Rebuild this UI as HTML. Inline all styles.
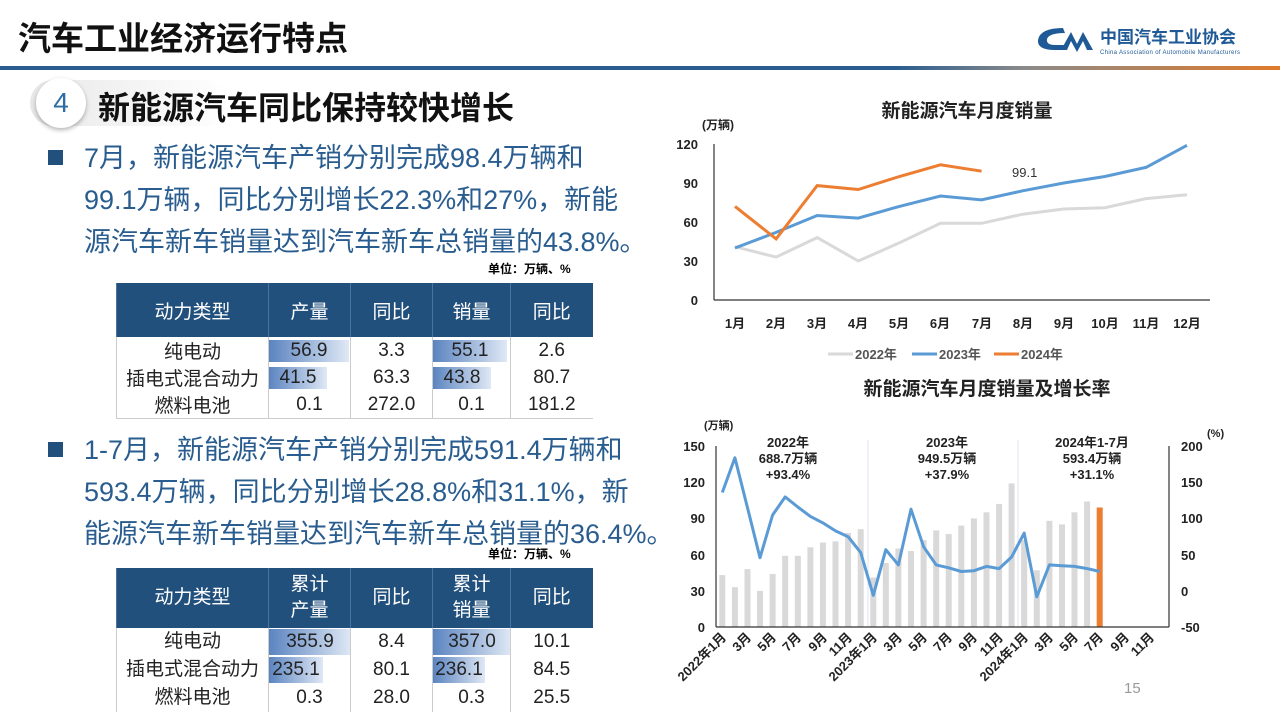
<!DOCTYPE html>
<html><head><meta charset="utf-8"><style>
body{margin:0;width:1280px;height:719px;overflow:hidden;background:#fff;font-family:"Liberation Sans","Noto Sans CJK SC",sans-serif;position:relative}
.a{position:absolute;white-space:nowrap}
.bl{color:#2a5d8f;font-size:27px;line-height:42px}
table{border-collapse:collapse;table-layout:fixed;position:absolute;left:116px;width:476px;font-size:19px;color:#222;text-align:center}
th{background:#22507c;color:#fff;font-weight:normal;border-left:1px solid #4a73a0}
td{padding:0;border-left:1px solid #ccc}
.g{background:linear-gradient(90deg,#5b84c0,#dfe8f5);}
</style></head><body>
<div class="a" style="left:18px;top:12px;font-size:33px;font-weight:bold;color:#111">汽车工业经济运行特点</div>
<div class="a" style="left:0;top:66px;width:1280px;height:4px;background:linear-gradient(90deg,#2a5d8f 0%,#2a5d8f 70%,#8a8a8a 80%,#e07a2a 100%)"></div>
<svg class="a" style="left:1035px;top:24px" width="245" height="34" font-family="Liberation Sans, Noto Sans CJK SC, sans-serif"><path d="M28 4 Q5 4 3 16 Q2 26 20 26 L28 26 L30 21 L20 21 Q11 21 12 15 Q14 9 30 9 Z" fill="#1f5a96"/><path d="M26 26 L36 8 L42 20 L48 8 L58 26 L52 26 L48 17 L42 28 L36 17 L32 26Z" fill="#1f5a96"/>
<text x="65" y="19" font-size="17" font-weight="bold" fill="#1f5a96">中国汽车工业协会</text>
<text x="65" y="30" font-size="6" fill="#1f5a96" textLength="140">China Association of Automobile Manufacturers</text></svg>
<div class="a" style="left:30px;top:80px;width:200px;height:46px;background:linear-gradient(90deg,#e8e8e8,rgba(255,255,255,0));border-radius:23px"></div>
<div class="a" style="left:36px;top:78px;width:50px;height:50px;border-radius:50%;background:#fff;box-shadow:0 2px 5px rgba(0,0,0,.3);text-align:center;line-height:50px;font-size:28px;color:#2e6da4">4</div>
<div class="a" style="left:98px;top:83px;font-size:32px;font-weight:bold;color:#111">新能源汽车同比保持较快增长</div>
<div class="a" style="left:48px;top:150px;width:15px;height:15px;background:#22507c"></div>
<div class="a bl" style="left:84px;top:137px">7月，新能源汽车产销分别完成98.4万辆和<br>99.1万辆，同比分别增长22.3%和27%，新能<br>源汽车新车销量达到汽车新车总销量的43.8%。</div>
<div class="a" style="left:488px;top:260px;font-size:12px;font-weight:bold">单位：万辆、%</div>
<table style="top:283px"><colgroup><col style="width:152px"><col style="width:82px"><col style="width:82px"><col style="width:78px"><col style="width:82px"></colgroup><tr style="height:54px"><th>动力类型</th><th>产量</th><th>同比</th><th>销量</th><th>同比</th></tr>
<tr style="height:26px"><td>纯电动</td><td><div class="g" style="width:80px">56.9</div></td><td>3.3</td><td><div class="g" style="width:74px">55.1</div></td><td>2.6</td></tr>
<tr style="height:26px"><td>插电式混合动力</td><td><div class="g" style="width:58px">41.5</div></td><td>63.3</td><td><div class="g" style="width:58px">43.8</div></td><td>80.7</td></tr>
<tr style="height:26px;border-bottom:1px solid #ccc"><td>燃料电池</td><td>0.1</td><td>272.0</td><td>0.1</td><td>181.2</td></tr></table>
<div class="a" style="left:48px;top:442px;width:15px;height:15px;background:#22507c"></div>
<div class="a bl" style="left:84px;top:429px">1-7月，新能源汽车产销分别完成591.4万辆和<br>593.4万辆，同比分别增长28.8%和31.1%，新<br>能源汽车新车销量达到汽车新车总销量的36.4%。</div>
<div class="a" style="left:488px;top:545px;font-size:12px;font-weight:bold">单位：万辆、%</div>
<table style="top:568px;line-height:26px"><colgroup><col style="width:152px"><col style="width:82px"><col style="width:82px"><col style="width:78px"><col style="width:82px"></colgroup><tr style="height:60px"><th>动力类型</th><th>累计<br>产量</th><th>同比</th><th>累计<br>销量</th><th>同比</th></tr>
<tr style="height:28px"><td>纯电动</td><td><div class="g" style="width:82px">355.9</div></td><td>8.4</td><td><div class="g" style="width:78px">357.0</div></td><td>10.1</td></tr>
<tr style="height:28px"><td>插电式混合动力</td><td><div class="g" style="width:54px">235.1</div></td><td>80.1</td><td><div class="g" style="width:52px">236.1</div></td><td>84.5</td></tr>
<tr style="height:28px"><td>燃料电池</td><td>0.3</td><td>28.0</td><td>0.3</td><td>25.5</td></tr></table>

<svg class="a" style="left:0;top:0" width="1280" height="719" font-family="Liberation Sans, Noto Sans CJK SC, sans-serif">
<text x="967" y="117" font-size="19" font-weight="bold" text-anchor="middle" fill="#222">新能源汽车月度销量</text>
<text x="702" y="129" font-size="12" font-weight="bold" fill="#222">(万辆)</text>
<g font-size="13" font-weight="bold" fill="#222" text-anchor="end">
<text x="698" y="149">120</text><text x="698" y="188">90</text><text x="698" y="227">60</text><text x="698" y="266">30</text><text x="698" y="305">0</text></g>
<line x1="714" y1="144" x2="714" y2="300" stroke="#333" stroke-width="1.2"/>
<line x1="714" y1="300" x2="1210" y2="300" stroke="#333" stroke-width="1.2"/>
<g font-size="13" font-weight="bold" fill="#222" text-anchor="middle">
<text x="735" y="328">1月</text><text x="776" y="328">2月</text><text x="817" y="328">3月</text><text x="858" y="328">4月</text><text x="899" y="328">5月</text><text x="940" y="328">6月</text><text x="982" y="328">7月</text><text x="1023" y="328">8月</text><text x="1064" y="328">9月</text><text x="1105" y="328">10月</text><text x="1146" y="328">11月</text><text x="1187" y="328">12月</text></g>
<polyline fill="none" stroke="#d9d9d9" stroke-width="3" points="735,246.7 776.1,257.1 817.2,237.6 858.3,261 899.4,242.8 940.5,223.3 981.6,223.3 1022.7,214.2 1063.8,209 1104.9,207.7 1146,198.6 1187,194.7"/>
<polyline fill="none" stroke="#5b9bd5" stroke-width="3" points="735,248 776.1,232.4 817.2,215.5 858.3,218.1 899.4,206.4 940.5,196 981.6,199.9 1022.7,190.8 1063.8,183 1104.9,176.5 1146,167.4 1187,145.3"/>
<polyline fill="none" stroke="#ed7d31" stroke-width="3" points="735,206.4 776.1,238.9 817.2,185.6 858.3,189.5 899.4,176.5 940.5,164.8 981.6,171.2"/>
<text x="1012" y="177" font-size="13" fill="#333">99.1</text>
<g font-size="13" font-weight="bold" fill="#555">
<line x1="828" y1="354" x2="853" y2="354" stroke="#d9d9d9" stroke-width="3"/><text x="855" y="359">2022年</text>
<line x1="912" y1="354" x2="937" y2="354" stroke="#5b9bd5" stroke-width="3"/><text x="939" y="359">2023年</text>
<line x1="994" y1="354" x2="1019" y2="354" stroke="#ed7d31" stroke-width="3"/><text x="1021" y="359">2024年</text></g>

<text x="987" y="395" font-size="19" font-weight="bold" text-anchor="middle" fill="#222">新能源汽车月度销量及增长率</text>
<text x="704" y="429" font-size="11" font-weight="bold" fill="#222">(万辆)</text>
<text x="1207" y="437" font-size="11" font-weight="bold" fill="#222">(%)</text>
<g font-size="13" font-weight="bold" fill="#222" text-anchor="end">
<text x="705" y="451">150</text><text x="705" y="487">120</text><text x="705" y="523">90</text><text x="705" y="560">60</text><text x="705" y="596">30</text><text x="705" y="632">0</text></g>
<g font-size="13" font-weight="bold" fill="#222" text-anchor="start">
<text x="1181" y="451">200</text><text x="1181" y="487">150</text><text x="1181" y="523">100</text><text x="1181" y="560">50</text><text x="1181" y="596">0</text><text x="1181" y="632">-50</text></g>
<line x1="868" y1="440" x2="868" y2="627" stroke="#dde6f0"/><line x1="1018" y1="440" x2="1018" y2="627" stroke="#dde6f0"/>
<g fill="#d9d9d9">
<rect x="719.3" y="575.1" width="6" height="51.9"/><rect x="731.9" y="587.2" width="6" height="39.8"/><rect x="744.5" y="569.1" width="6" height="57.9"/><rect x="757" y="590.8" width="6" height="36.2"/><rect x="769.6" y="573.9" width="6" height="53.1"/><rect x="782.2" y="555.8" width="6" height="71.2"/><rect x="794.8" y="555.8" width="6" height="71.2"/><rect x="807.4" y="547.3" width="6" height="79.7"/><rect x="819.9" y="542.5" width="6" height="84.5"/><rect x="832.5" y="541.3" width="6" height="85.7"/><rect x="845.1" y="532.9" width="6" height="94.1"/><rect x="857.7" y="529.2" width="6" height="97.8"/>
<rect x="870.3" y="577.5" width="6" height="49.5"/><rect x="882.8" y="563" width="6" height="64"/><rect x="895.4" y="548.5" width="6" height="78.5"/><rect x="908" y="551" width="6" height="76"/><rect x="920.6" y="540.1" width="6" height="86.9"/><rect x="933.2" y="530.4" width="6" height="96.6"/><rect x="945.7" y="534.1" width="6" height="92.9"/><rect x="958.3" y="525.6" width="6" height="101.4"/><rect x="970.9" y="518.4" width="6" height="108.6"/><rect x="983.5" y="512.3" width="6" height="114.7"/><rect x="996.1" y="503.9" width="6" height="123.1"/><rect x="1008.6" y="483.4" width="6" height="143.6"/>
<rect x="1021.2" y="540.1" width="6" height="86.9"/><rect x="1033.8" y="570.3" width="6" height="56.7"/><rect x="1046.4" y="520.8" width="6" height="106.2"/><rect x="1059" y="524.4" width="6" height="102.6"/><rect x="1071.5" y="512.3" width="6" height="114.7"/><rect x="1084.1" y="501.5" width="6" height="125.5"/></g>
<rect x="1096.7" y="507.5" width="6" height="119.5" fill="#ed7d31"/>
<line x1="716" y1="446" x2="716" y2="627" stroke="#333" stroke-width="1.2"/>
<line x1="1169" y1="446" x2="1169" y2="627" stroke="#333" stroke-width="1.2"/>
<line x1="716" y1="627" x2="1169" y2="627" stroke="#333" stroke-width="1.2"/>
<polyline fill="none" stroke="#5b9bd5" stroke-width="3" stroke-linejoin="round" points="722.3,492.5 734.9,457.8 747.5,507.7 760,557.7 772.6,515 785.2,496.9 797.8,507 810.4,516.4 822.9,522.9 835.5,530.9 848.1,536.7 860.7,552.6 873.3,595.3 885.8,549.7 898.4,564.9 911,509.2 923.6,546.8 936.2,564.9 948.7,567.8 961.3,571.5 973.9,570.7 986.5,566.4 999.1,568.6 1011.6,557 1024.2,533.1 1036.8,596.8 1049.4,564.9 1062,565.7 1074.5,566.4 1087.1,568.6 1099.7,571.5"/>
<g font-size="13" font-weight="bold" fill="#222" text-anchor="middle">
<text x="788" y="447">2022年</text><text x="788" y="463">688.7万辆</text><text x="788" y="479">+93.4%</text>
<text x="947" y="447">2023年</text><text x="947" y="463">949.5万辆</text><text x="947" y="479">+37.9%</text>
<text x="1092" y="447">2024年1-7月</text><text x="1092" y="463">593.4万辆</text><text x="1092" y="479">+31.1%</text></g>
<g font-size="13" font-weight="bold" fill="#222" text-anchor="end">
<text transform="translate(727,638) rotate(-45)">2022年1月</text><text transform="translate(752,638) rotate(-45)">3月</text><text transform="translate(777,638) rotate(-45)">5月</text><text transform="translate(802,638) rotate(-45)">7月</text><text transform="translate(828,638) rotate(-45)">9月</text><text transform="translate(853,638) rotate(-45)">11月</text>
<text transform="translate(878,638) rotate(-45)">2023年1月</text><text transform="translate(903,638) rotate(-45)">3月</text><text transform="translate(928,638) rotate(-45)">5月</text><text transform="translate(953,638) rotate(-45)">7月</text><text transform="translate(978,638) rotate(-45)">9月</text><text transform="translate(1004,638) rotate(-45)">11月</text>
<text transform="translate(1029,638) rotate(-45)">2024年1月</text><text transform="translate(1054,638) rotate(-45)">3月</text><text transform="translate(1079,638) rotate(-45)">5月</text><text transform="translate(1104,638) rotate(-45)">7月</text><text transform="translate(1130,638) rotate(-45)">9月</text><text transform="translate(1155,638) rotate(-45)">11月</text></g>
<text x="1124" y="693" font-size="15" fill="#999">15</text>
</svg>
</body></html>
